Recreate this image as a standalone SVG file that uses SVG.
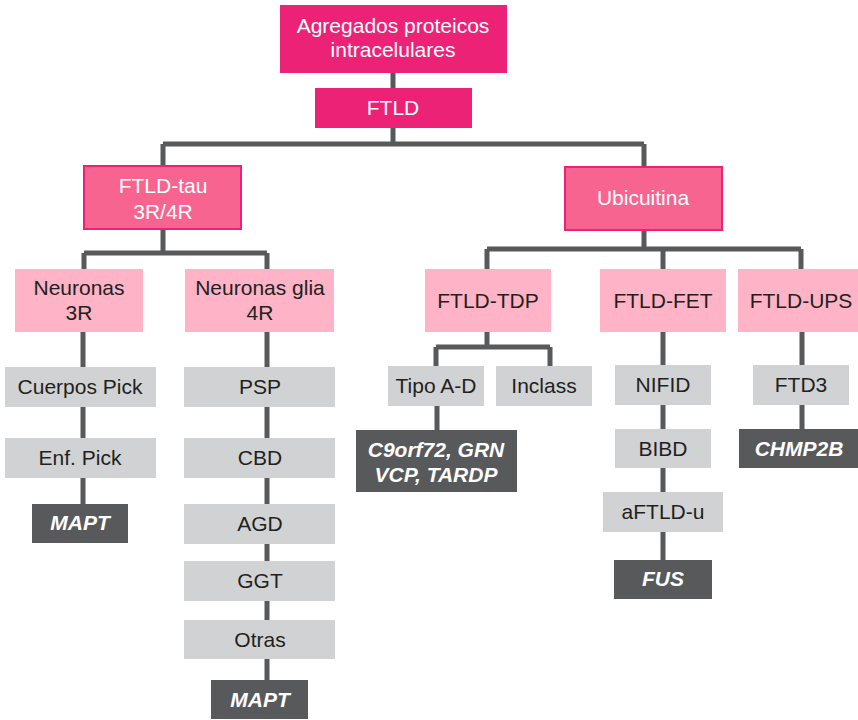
<svg xmlns="http://www.w3.org/2000/svg" width="858" height="720" viewBox="0 0 858 720">
<style>
text{font-family:"Liberation Sans",Arial,sans-serif;font-size:21px;text-anchor:middle}
.top{fill:#EC2277}
.mid{fill:#F7648F;stroke:#EC2277;stroke-width:2}
.lt{fill:#FEB3C6}
.gr{fill:#D1D2D4}
.dk{fill:#58595B}
.w{fill:#FFFFFF}
.b{fill:#231F20}
.g{fill:#FFFFFF;font-weight:bold;font-style:italic}
.c{fill:none;stroke:#58595B;stroke-width:5}
</style>
<rect width="858" height="720" fill="#FFFFFF"/>
<g id="connectors">
<path class="c" d="M393 73V88M393 128V144M163 144H644M163 144V165M644 144V166"/>
<path class="c" d="M163 230V253M84 253H267M84 253V269M267 253V269"/>
<path class="c" d="M83 332V504M267 332V680"/>
<path class="c" d="M644 230V249M487 249H801M487 249V269M663 249V269M801 249V269"/>
<path class="c" d="M487 332V347M436 347H550M436 347V366M550 347V366M437 406V430"/>
<path class="c" d="M663 332V560M802 332V429"/>
</g>
<g id="n-agregados"><rect class="top" x="280" y="5" width="227" height="68"/><text class="w" x="393" y="33">Agregados proteicos</text><text class="w" x="393" y="57">intracelulares</text></g>
<g id="n-ftld"><rect class="top" x="315" y="88" width="157" height="40"/><text class="w" x="393" y="115">FTLD</text></g>
<g id="n-ftldtau"><rect class="mid" x="84" y="166" width="157" height="63"/><text class="w" x="163" y="193">FTLD-tau</text><text class="w" x="163" y="219">3R/4R</text></g>
<g id="n-ubicuitina"><rect class="mid" x="565" y="167" width="157" height="63"/><text class="w" x="643" y="205">Ubicuitina</text></g>
<g id="n-neuronas3r"><rect class="lt" x="15" y="269" width="128" height="63"/><text class="b" x="79" y="295">Neuronas</text><text class="b" x="79" y="320">3R</text></g>
<g id="n-neuronasglia"><rect class="lt" x="185" y="269" width="149" height="63"/><text class="b" x="260" y="295">Neuronas glia</text><text class="b" x="260" y="320">4R</text></g>
<g id="n-ftldtdp"><rect class="lt" x="425" y="269" width="126" height="63"/><text class="b" x="488" y="308">FTLD-TDP</text></g>
<g id="n-ftldfet"><rect class="lt" x="600" y="269" width="126" height="63"/><text class="b" x="663" y="308">FTLD-FET</text></g>
<g id="n-ftldups"><rect class="lt" x="738" y="269" width="124" height="63"/><text class="b" x="801" y="308">FTLD-UPS</text></g>
<g id="n-cuerpospick"><rect class="gr" x="5" y="367" width="151" height="40"/><text class="b" x="80" y="394">Cuerpos Pick</text></g>
<g id="n-enfpick"><rect class="gr" x="5" y="438" width="151" height="40"/><text class="b" x="80" y="465">Enf. Pick</text></g>
<g id="n-mapt1"><rect class="dk" x="32" y="504" width="96" height="39"/><text class="g" x="80" y="530">MAPT</text></g>
<g id="n-psp"><rect class="gr" x="184" y="367" width="151" height="40"/><text class="b" x="260" y="394">PSP</text></g>
<g id="n-cbd"><rect class="gr" x="184" y="438" width="151" height="40"/><text class="b" x="260" y="465">CBD</text></g>
<g id="n-agd"><rect class="gr" x="184" y="504" width="151" height="40"/><text class="b" x="260" y="531">AGD</text></g>
<g id="n-ggt"><rect class="gr" x="184" y="561" width="151" height="40"/><text class="b" x="260" y="588">GGT</text></g>
<g id="n-otras"><rect class="gr" x="184" y="620" width="151" height="39"/><text class="b" x="260" y="647">Otras</text></g>
<g id="n-mapt2"><rect class="dk" x="211" y="680" width="97" height="39"/><text class="g" x="260" y="707">MAPT</text></g>
<g id="n-tipoad"><rect class="gr" x="388" y="366" width="96" height="40"/><text class="b" x="436" y="393">Tipo A-D</text></g>
<g id="n-inclass"><rect class="gr" x="496" y="366" width="96" height="40"/><text class="b" x="544" y="393">Inclass</text></g>
<g id="n-c9orf72"><rect class="dk" x="356" y="430" width="161" height="62"/><text class="g" x="436" y="457">C9orf72, GRN</text><text class="g" x="436" y="482">VCP, TARDP</text></g>
<g id="n-nifid"><rect class="gr" x="615" y="365" width="96" height="40"/><text class="b" x="663" y="392">NIFID</text></g>
<g id="n-bibd"><rect class="gr" x="615" y="429" width="96" height="39"/><text class="b" x="663" y="456">BIBD</text></g>
<g id="n-aftldu"><rect class="gr" x="603" y="492" width="120" height="40"/><text class="b" x="663" y="519">aFTLD-u</text></g>
<g id="n-fus"><rect class="dk" x="614" y="560" width="98" height="39"/><text class="g" x="663" y="586">FUS</text></g>
<g id="n-ftd3"><rect class="gr" x="753" y="365" width="96" height="40"/><text class="b" x="801" y="392">FTD3</text></g>
<g id="n-chmp2b"><rect class="dk" x="739" y="429" width="119" height="39"/><text class="g" x="799" y="456">CHMP2B</text></g>
</svg>
